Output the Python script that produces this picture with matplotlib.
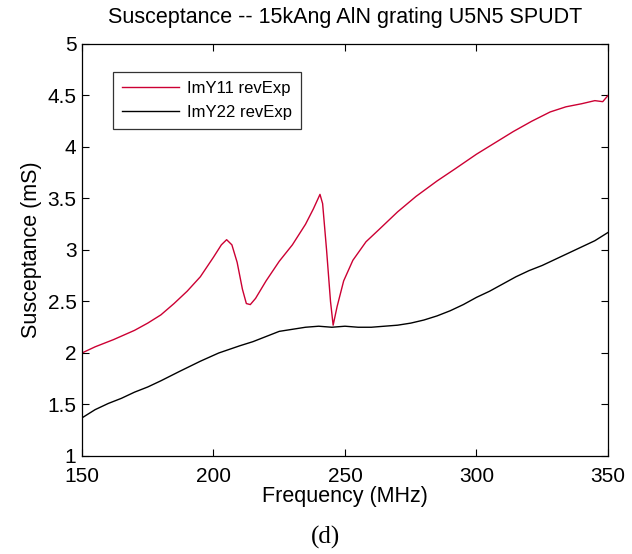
import matplotlib
matplotlib.use("Agg")
import matplotlib.pyplot as plt

plt.rcParams['font.family'] = ['Liberation Sans', 'DejaVu Sans']

# frequency (MHz) / susceptance (mS)
freq_y11 = [150, 155, 162, 170, 175, 180, 185, 190, 195, 200, 203, 205, 207, 209, 211,
            212.5, 214, 216, 220, 225, 230, 235, 238, 240.5, 241.5, 243, 244.5, 245.5,
            247, 249.5, 253, 258, 263, 270, 277, 285, 292, 300, 307, 314, 321, 328,
            334, 340, 345, 348, 350]
imy11 = [2.00, 2.06, 2.13, 2.22, 2.29, 2.37, 2.48, 2.60, 2.74, 2.93, 3.05, 3.10, 3.05, 2.88, 2.62,
         2.48, 2.47, 2.53, 2.70, 2.89, 3.05, 3.25, 3.40, 3.54, 3.45, 3.00, 2.50, 2.27,
         2.45, 2.70, 2.90, 3.08, 3.20, 3.37, 3.52, 3.67, 3.79, 3.93, 4.04, 4.15, 4.25, 4.34,
         4.39, 4.42, 4.45, 4.44, 4.50]

freq_y22 = [150, 155, 160, 165, 170, 175, 180, 187, 195, 202, 210, 215, 220, 225, 230,
            235, 240, 245, 250, 255, 260, 265, 270, 275, 280, 285, 290, 295, 300, 305,
            310, 315, 320, 325, 330, 335, 340, 345, 350]
imy22 = [1.37, 1.45, 1.51, 1.56, 1.62, 1.67, 1.73, 1.82, 1.92, 2.00, 2.07, 2.11, 2.16, 2.21, 2.23,
         2.25, 2.26, 2.25, 2.26, 2.25, 2.25, 2.26, 2.27, 2.29, 2.32, 2.36, 2.41, 2.47, 2.54, 2.60,
         2.67, 2.74, 2.80, 2.85, 2.91, 2.97, 3.03, 3.09, 3.17]

xticks = [150, 200, 250, 300, 350]
yticks = [1, 1.5, 2, 2.5, 3, 3.5, 4, 4.5, 5]
ytick_labels = ['1', '1.5', '2', '2.5', '3', '3.5', '4', '4.5', '5']

fig = plt.figure(figsize=(6.32, 5.54), dpi=100)
ax = fig.add_axes([0.1297, 0.1769, 0.8323, 0.7437])

ax.plot(freq_y11, imy11, color='#cc0033', linewidth=1.0, label='ImY11 revExp')
ax.plot(freq_y22, imy22, color='black', linewidth=1.0, label='ImY22 revExp')

ax.set_xlim(150, 350)
ax.set_ylim(1, 5)
ax.set_xticks(xticks)
ax.set_yticks(yticks)
ax.set_yticklabels(ytick_labels)
ax.tick_params(direction='in', top=True, right=True, length=5, width=0.8,
               labelsize=15, pad=4)
ax.tick_params(axis='x', pad=8)
for s in ax.spines.values():
    s.set_linewidth(0.9)

ax.set_title('Susceptance -- 15kAng AlN grating U5N5 SPUDT', fontsize=15.5, pad=15)
ax.set_xlabel('Frequency (MHz)', fontsize=15.5, labelpad=0)
ax.set_ylabel('Susceptance (mS)', fontsize=15.5, labelpad=4)

leg = ax.legend(loc='upper left', bbox_to_anchor=(0.059, 0.932), fontsize=12,
                frameon=True, fancybox=False, borderaxespad=0, handlelength=3.4,
                borderpad=0.55, labelspacing=0.5, handletextpad=0.5)
leg.get_frame().set_edgecolor('black')
leg.get_frame().set_linewidth(0.9)

fig.text(0.515, 0.018, '(d)', family='Liberation Serif', fontsize=18, ha='center')

fig.savefig('out.png', dpi=100)
